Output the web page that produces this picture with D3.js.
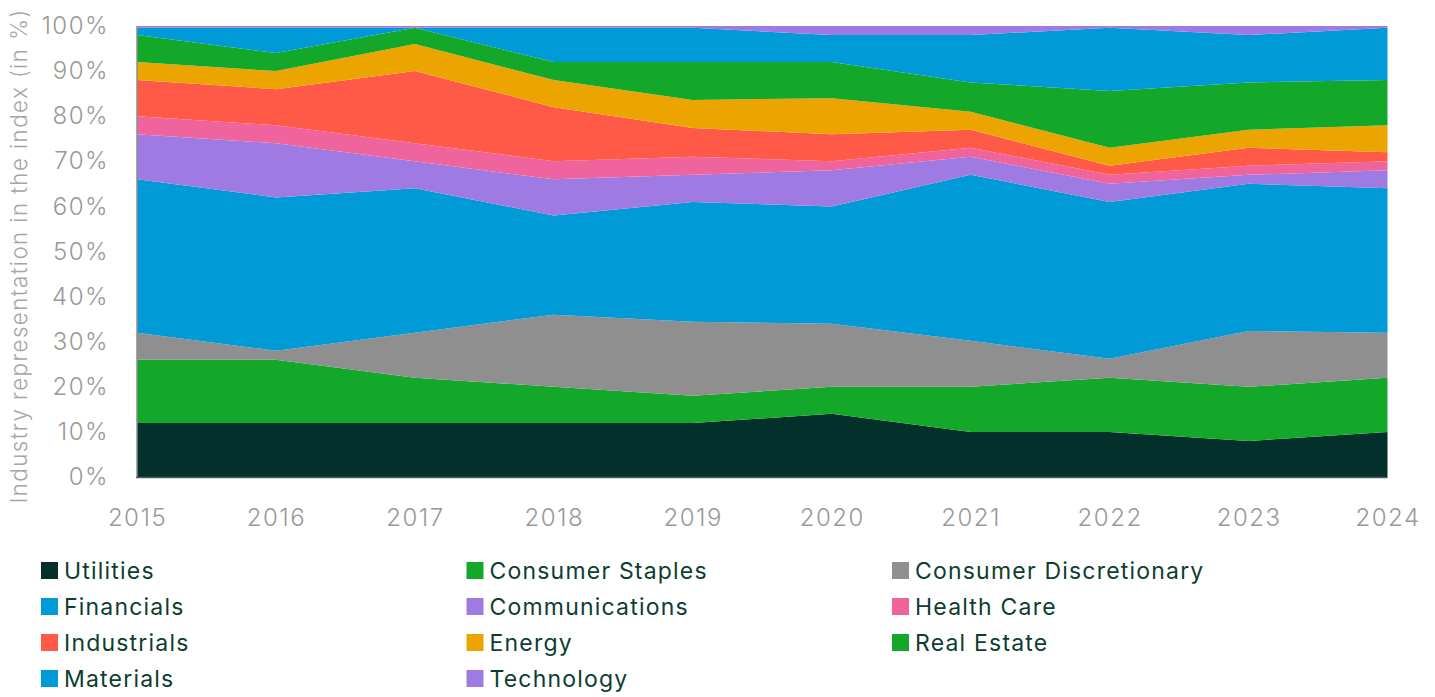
<!DOCTYPE html>
<html>
<head>
<meta charset="utf-8">
<script src="https://cdn.jsdelivr.net/npm/d3@7"></script>
<style>
  body { margin: 0; background: #fff; }
  svg { display: block; }
</style>
</head>
<body>
<svg id="chart" width="1435" height="697"></svg>
<script>
// values in % of the index
var years = [2015, 2016, 2017, 2018, 2019, 2020, 2021, 2022, 2023, 2024]
var sectors = ["Utilities", "Consumer Staples", "Consumer Discretionary", "Financials",
  "Communications", "Health Care", "Industrials", "Energy", "Real Estate", "Materials", "Technology"]
var utilities     = [12, 12, 12, 12, 12, 14, 10, 10, 8, 10]
var consStaples   = [14, 14, 10, 8, 6, 6, 10, 12, 12, 12]
var consDisc      = [6, 2, 10, 16, 16.4, 14, 10.2, 4.2, 12.4, 10]
var financials    = [34, 34, 32, 22, 26.6, 26, 36.8, 34.8, 32.6, 32]
var communication = [10, 12, 6, 8, 6, 8, 4, 4, 2, 4]
var healthCare    = [4, 4, 4, 4, 4, 2, 2, 2, 2, 2]
var industrials   = [8, 8, 16, 12, 6.4, 6, 4, 2, 4, 2]
var energy        = [4, 4, 6, 6, 6.2, 8, 4, 4, 4, 6]
var realEstate    = [6, 4, 3.6, 4, 8.4, 8, 6.5, 12.6, 10.5, 10]
var materials     = [1.6, 5.6, 0, 7.6, 7.6, 6, 10.5, 14, 10.5, 11.6]
var technology    = [0.4, 0.4, 0.4, 0.4, 0.4, 2, 2, 0.4, 2, 0.4]
var colors = ["#03302a", "#14a82a", "#8f8f8f", "#009bd6", "#9f7ae3", "#f0649e",
  "#ff5a48", "#eba400", "#14a82a", "#009bd6", "#9f7ae3"]
var yTicks = [0, 10, 20, 30, 40, 50, 60, 70, 80, 90, 100]

var series = [utilities, consStaples, consDisc, financials, communication, healthCare,
  industrials, energy, realEstate, materials, technology]

var rows = years.map(function(yr, i){
  var r = {year: yr}
  sectors.forEach(function(s, j){ r[s] = series[j][i] })
  return r
})

var svg = d3.select("#chart")
var x = d3.scaleLinear().domain([2015, 2024]).range([137, 1387.5])
var y = d3.scaleLinear().domain([0, 100]).range([477, 26])

var stacked = d3.stack().keys(sectors)(rows)

var area = d3.area()
  .x(function(d){ return x(d.data.year) })
  .y0(function(d){ return y(d[0]) })
  .y1(function(d){ return y(d[1]) })

svg.append("g").selectAll("path")
  .data(stacked)
  .join("path")
    .attr("d", area)
    .attr("fill", function(d, i){ return colors[i] })

// left axis line
svg.append("line")
  .attr("x1", 137).attr("x2", 137)
  .attr("y1", y(100)).attr("y2", y(0))
  .attr("stroke", "#8c8c8c").attr("stroke-width", 1.5)

// bottom axis line
svg.append("line")
  .attr("x1", 136).attr("x2", 1387.5)
  .attr("y1", y(0) + 0.5).attr("y2", y(0) + 0.5)
  .attr("stroke", "#43605a").attr("stroke-width", 1.5)

var tickFont = "Inter, Roboto, sans-serif"

var yAxis = d3.axisLeft(y).tickValues(yTicks).tickSize(0).tickPadding(28)
  .tickFormat(function(d){ return d + "%" })
svg.append("g")
  .attr("transform", "translate(137,0)")
  .call(yAxis)
  .call(function(g){ g.select(".domain").remove() })
  .selectAll("text")
    .attr("fill", "#999999")
    .attr("font-family", tickFont)
    .attr("font-weight", 300)
    .attr("font-size", 24)
    .attr("letter-spacing", 1.5)

var xAxis = d3.axisBottom(x).tickValues(years).tickSize(0).tickPadding(32)
  .tickFormat(d3.format("d"))
svg.append("g")
  .attr("transform", "translate(0," + y(0) + ")")
  .call(xAxis)
  .call(function(g){ g.select(".domain").remove() })
  .selectAll("text")
    .attr("fill", "#999999")
    .attr("font-family", tickFont)
    .attr("font-weight", 300)
    .attr("font-size", 24)
    .attr("letter-spacing", 1.5)

svg.append("text")
  .attr("transform", "translate(27," + 256 + ") rotate(-90)")
  .attr("text-anchor", "middle")
  .attr("fill", "#a6a6a6")
  .attr("font-family", tickFont)
  .attr("font-weight", 300)
  .attr("font-size", 22.5)
  .attr("letter-spacing", 1.35)
  .text("Industry representation in the index (in %)")

// legend, three columns
var legend = svg.append("g")
var item = legend.selectAll("g")
  .data(sectors)
  .join("g")
    .attr("transform", function(d, i){
      return "translate(" + (41 + (i % 3) * 425.5) + "," + (562 + Math.floor(i / 3) * 36) + ")"
    })

item.append("rect")
  .attr("width", 17).attr("height", 17)
  .attr("fill", function(d, i){ return colors[i] })

item.append("text")
  .attr("x", 23).attr("y", 16.5)
  .attr("fill", "#0d3d33")
  .attr("font-family", "Inter, sans-serif")
  .attr("font-size", 23)
  .attr("letter-spacing", 1.2)
  .text(function(d){ return d })
</script>
</body>
</html>
